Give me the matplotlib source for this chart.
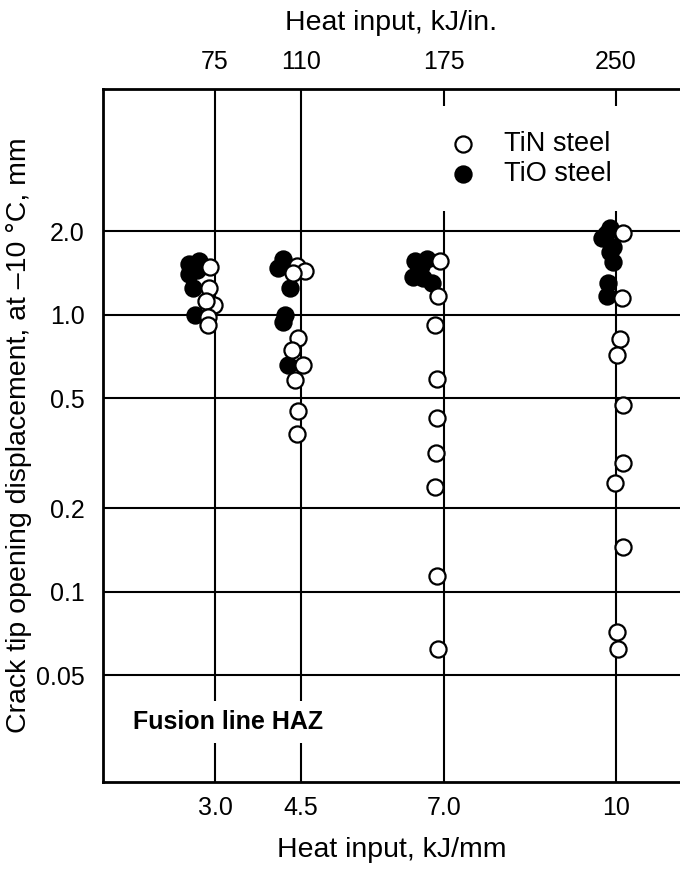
import matplotlib
matplotlib.use("Agg")
import matplotlib.pyplot as plt
from matplotlib.ticker import FixedLocator, NullLocator

plt.rcParams['font.family'] = ['Liberation Sans', 'DejaVu Sans']

# ---- data (heat input kJ/mm, CTOD mm) ----
tio_x = [2.55, 2.72, 2.55, 2.68, 2.62, 2.65,
         4.19, 4.10, 4.31, 4.22, 4.19, 4.27,
         6.49, 6.70, 6.60, 6.46, 6.63, 6.79,
         9.90, 9.82, 9.76, 9.95, 9.90, 9.95, 9.86, 9.84]
tio_y = [1.52, 1.56, 1.40, 1.45, 1.25, 1.00,
         1.59, 1.47, 1.25, 1.00, 0.94, 0.66,
         1.56, 1.59, 1.50, 1.37, 1.35, 1.30,
         2.05, 1.95, 1.89, 1.76, 1.68, 1.55, 1.30, 1.17]

tin_x = [2.92, 2.90, 2.98, 2.85, 2.88, 2.88,
         4.43, 4.57, 4.36, 4.45, 4.34, 4.54, 4.40, 4.45, 4.43,
         6.93, 6.89, 6.84, 6.88, 6.88, 6.86, 6.84, 6.88, 6.89,
         10.12, 10.11, 10.07, 10.02, 10.12, 10.12, 9.98, 10.12, 10.02, 10.04]
tin_y = [1.48, 1.25, 1.08, 1.12, 0.98, 0.92,
         1.50, 1.44, 1.41, 0.82, 0.745, 0.66, 0.58, 0.45, 0.37,
         1.56, 1.17, 0.92, 0.584, 0.424, 0.316, 0.238, 0.114, 0.062,
         1.97, 1.15, 0.817, 0.714, 0.47, 0.291, 0.246, 0.145, 0.0716, 0.062]

x_ticks = [3.0, 4.5, 7.0, 10.0]
x_ticklabels = ['3.0', '4.5', '7.0', '10']
top_ticklabels = ['75', '110', '175', '250']
y_ticks = [0.05, 0.1, 0.2, 0.5, 1.0, 2.0]
y_ticklabels = ['0.05', '0.1', '0.2', '0.5', '1.0', '2.0']

W, H = 680, 869
fig = plt.figure(figsize=(W / 100, H / 100), dpi=100)
ax = fig.add_axes([103 / W, 1 - 782 / H, 1 - 103 / W, (782 - 89) / H])

ax.set_yscale('log')
ax.set_xlim(1.044, 11.12)
ax.set_ylim(0.02056, 6.52)

ax.yaxis.set_major_locator(FixedLocator(y_ticks))
ax.yaxis.set_minor_locator(NullLocator())
ax.set_yticklabels(y_ticklabels)
ax.set_xticks(x_ticks)
ax.set_xticklabels(x_ticklabels)
ax.tick_params(axis='both', length=0, labelsize=18)
ax.tick_params(axis='x', pad=10)
ax.tick_params(axis='y', pad=13)

ax.grid(True, which='major', color='black', linewidth=1.5, zorder=1)
ax.set_axisbelow(True)
for s in ['left', 'bottom', 'top']:
    ax.spines[s].set_linewidth(2.0)
ax.spines['right'].set_visible(False)

ax.scatter(tio_x, tio_y, s=135, facecolor='black', edgecolor='black',
           linewidth=1.6, zorder=3, label='TiO steel')
ax.scatter(tin_x, tin_y, s=135, facecolor='white', edgecolor='black',
           linewidth=1.6, zorder=4, label='TiN steel')

handles, labels = ax.get_legend_handles_labels()
leg = ax.legend(handles[::-1], labels[::-1], loc='upper left',
                bbox_to_anchor=(0.559, 0.975), fontsize=19.5, frameon=True,
                fancybox=False, edgecolor='none', facecolor='white', framealpha=1,
                borderpad=0.9, handlelength=1.0, handletextpad=1.0,
                labelspacing=0.15, markerscale=1.0, borderaxespad=0)
leg.set_zorder(5)

ax.text(0.052, 0.0866, 'Fusion line HAZ', transform=ax.transAxes,
        fontsize=18, fontweight='bold', ha='left', va='center', zorder=6,
        bbox=dict(boxstyle='square,pad=0.35', facecolor='white', edgecolor='none'))

ax.set_xlabel('Heat input, kJ/mm', fontsize=20.5, labelpad=12)
ax.set_ylabel('Crack tip opening displacement, at \u201310 \u00b0C, mm', fontsize=20.5)
ax.yaxis.set_label_coords(-0.123, 0.5)

ax2 = ax.twiny()
ax2.set_xlim(ax.get_xlim())
ax2.set_xticks(x_ticks)
ax2.set_xticklabels(top_ticklabels)
ax2.tick_params(axis='x', length=0, labelsize=18, pad=11)
ax2.set_xlabel('Heat input, kJ/in.', fontsize=20.5, labelpad=14)
for s in ax2.spines.values():
    s.set_visible(False)

fig.savefig('out.png', dpi=100)
